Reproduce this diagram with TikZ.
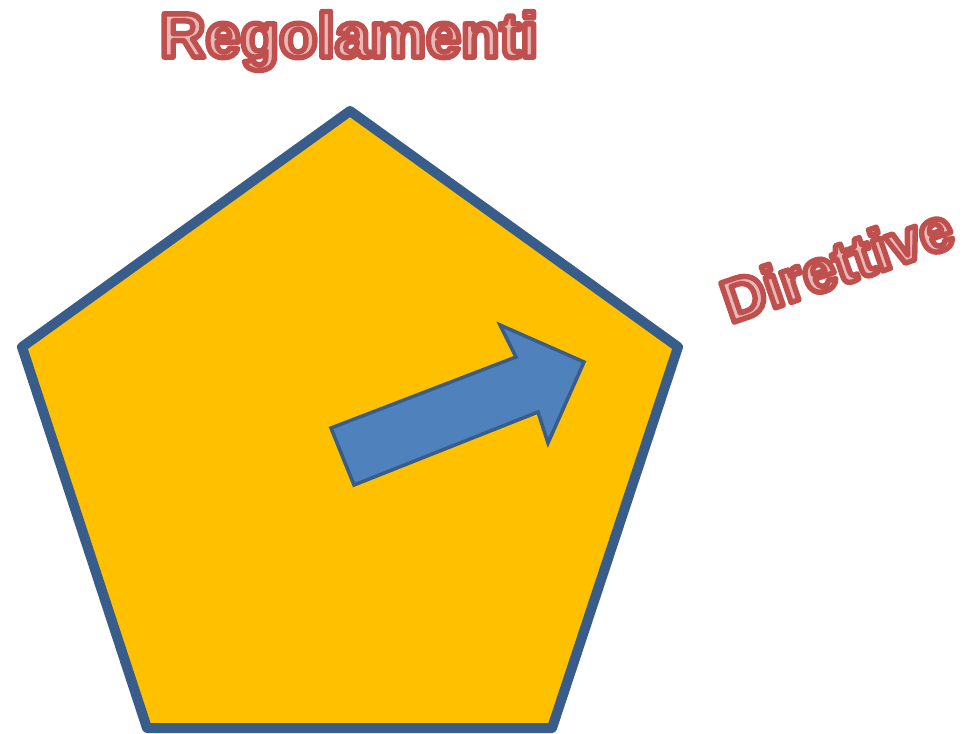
\documentclass[tikz,border=0pt]{standalone}
\usepackage{fontspec}
\setmainfont{Liberation Sans}
\definecolor{penfill}{HTML}{FFC000}
\definecolor{penline}{HTML}{385D8A}
\definecolor{arrfill}{HTML}{4F81BD}
\tikzset{
  outlined/.style={inner sep=0pt, font=\fontsize{63}{70}\selectfont\bfseries},
}
% outlined text: fill light pink, stroke dark red
\newcommand{\outtext}[1]{\special{pdf:literal direct q 2 Tr 5.4 w 1 j 0.753 0.314 0.302 RG 0.902 0.725 0.722 rg}#1\special{pdf:literal direct Q}}
\begin{document}
\begin{tikzpicture}[x=1pt,y=-1pt]
\useasboundingbox (0,0) rectangle (963,733);
% pentagon
\draw[penline, line width=10pt, fill=penfill, line join=round]
  (350,111) -- (678,347) -- (552,728) -- (147,728) -- (22,347) -- cycle;
% block arrow
\draw[penline, line width=3.5pt, fill=arrfill, line join=miter]
  (331,428) -- (516,357) -- (500,325) -- (584,362) -- (548,443) -- (538,412) -- (354,485) -- cycle;
% labels
\node[outlined] (reg) at (349,41) {\outtext{Regolamenti}};
\node[outlined, rotate=19, font=\fontsize{60}{66}\selectfont\bfseries] (dir) at (837,264) {\outtext{Direttive}};
\end{tikzpicture}
\end{document}
